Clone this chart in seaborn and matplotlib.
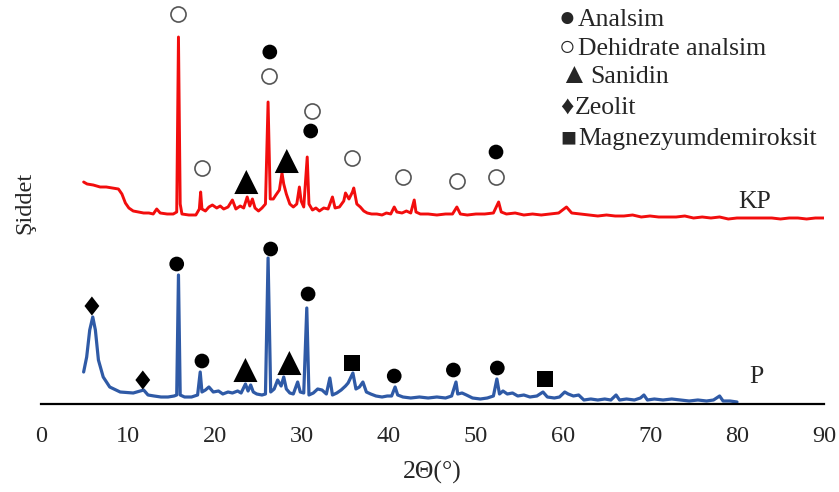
import matplotlib
matplotlib.use("Agg")
import matplotlib.pyplot as plt
import seaborn as sns

# KP pattern (calcined), 2-theta in degrees and relative intensity
kp_2theta = [4.9, 5.3, 6.0, 6.8, 7.5, 8.2, 8.9, 9.3, 9.7, 10.1, 10.6, 11.2, 11.8, 12.4, 12.9,
             13.3, 13.7, 14.5, 15.2, 15.6, 15.8, 16.0, 16.2, 17.0, 17.8, 18.2, 18.35, 18.5,
             18.9, 19.3, 19.7, 20.2, 20.6, 21.0, 21.5, 22.0, 22.4, 22.9, 23.3, 23.7, 24.0,
             24.3, 24.6, 25.0, 25.4, 25.8, 26.1, 26.35, 26.7, 27.0, 27.4, 27.7, 27.9, 28.2,
             28.6, 29.0, 29.4, 29.7, 29.9, 30.2, 30.6, 30.8, 31.2, 31.6, 32.0, 32.5, 33.0,
             33.5, 33.8, 34.3, 34.8, 35.0, 35.4, 35.8, 35.95, 36.3, 36.7, 37.1, 37.5, 38.0,
             38.6, 39.2, 39.7, 40.2, 40.6, 40.9, 41.5, 42.0, 42.5, 42.9, 43.1, 43.6, 44.5,
             45.5, 46.5, 47.3, 47.8, 48.2, 49.0, 50.0, 51.0, 52.0, 52.6, 52.9, 53.5, 54.5,
             55.5, 56.5, 57.5, 58.5, 59.5, 60.4, 61.0, 62.0, 63.0, 64.0, 65.0, 66.0, 67.0,
             68.0, 69.0, 70.0, 71.0, 72.0, 73.0, 74.0, 75.0, 76.0, 77.0, 78.0, 79.0, 80.0,
             81.0, 82.0, 83.0, 84.0, 85.0, 86.0, 87.0, 88.0, 89.0, 90.0]
kp_intensity = [222, 220, 219, 217, 217, 216, 215, 210, 201, 196, 193, 192, 191, 191, 190,
                195, 191, 190, 190, 192, 367, 200, 190, 189, 189, 195, 212, 195,
                193, 197, 199, 196, 198, 195, 197, 204, 195, 198, 196, 207, 198,
                205, 196, 193, 196, 200, 302, 205, 205, 209, 214, 231, 220, 210,
                200, 197, 200, 217, 203, 197, 247, 200, 194, 196, 193, 196, 195,
                207, 196, 197, 203, 211, 205, 212, 216, 200, 197, 193, 191, 190,
                190, 189, 191, 190, 197, 192, 191, 193, 191, 204, 192, 190, 190,
                189, 190, 190, 197, 190, 189, 190, 190, 191, 202, 192, 190, 191,
                189, 190, 189, 190, 191, 197, 191, 190, 189, 188, 189, 188, 188,
                189, 187, 188, 187, 187, 187, 188, 186, 187, 186, 187, 185, 186,
                186, 186, 186, 186, 185, 186, 186, 185, 186, 186]

# P pattern (natural), 2-theta in degrees and relative intensity
p_2theta = [4.9, 5.25, 5.6, 5.95, 6.25, 6.6, 7.15, 7.9, 9.1, 10.6, 11.8, 12.3, 13.0, 13.8,
            14.6, 15.3, 15.6, 15.8, 16.0, 16.5, 17.3, 18.0, 18.3, 18.5, 18.9, 19.3, 19.8,
            20.4, 20.9, 21.5, 22.0, 22.6, 23.0, 23.5, 23.8, 24.1, 24.4, 24.8, 25.4, 25.8,
            26.1, 26.4, 26.8, 27.2, 27.6, 27.9, 28.2, 28.6, 29.0, 29.5, 29.8, 30.2, 30.55,
            30.8, 31.3, 31.8, 32.3, 32.8, 33.2, 33.5, 34.0, 34.5, 35.0, 35.3, 35.85, 36.2,
            36.6, 37.0, 37.4, 37.9, 38.5, 39.2, 39.8, 40.3, 40.7, 41.0, 41.6, 42.5, 43.5,
            44.5, 45.5, 46.5, 47.2, 47.7, 47.9, 48.4, 48.9, 49.6, 50.5, 51.3, 52.0, 52.4,
            52.7, 53.1, 53.6, 54.2, 54.8, 55.5, 56.2, 57.0, 57.7, 58.2, 59.0, 59.6, 60.2,
            60.6, 61.2, 61.8, 62.4, 63.2, 64.0, 64.8, 65.5, 66.1, 66.5, 67.3, 68.2, 68.9,
            69.3, 69.7, 70.5, 71.5, 72.5, 73.5, 74.5, 75.5, 76.5, 77.3, 78.0, 78.4, 79.2,
            80.0]
p_intensity = [32, 47, 74, 87, 74, 44, 27, 17, 12, 11, 14, 9, 8, 7,
               7, 8, 9, 129, 9, 7, 7, 9, 32, 12, 14, 17, 12,
               13, 10, 12, 11, 13, 11, 20, 13, 19, 12, 10, 9, 10,
               146, 12, 15, 24, 18, 27, 15, 11, 10, 22, 12, 11, 96,
               9, 11, 15, 14, 10, 26, 9, 11, 14, 18, 21, 31, 15,
               17, 22, 12, 10, 8, 7, 8, 8, 17, 9, 7, 6, 7,
               6, 7, 6, 8, 22, 10, 11, 9, 6, 5, 6, 8, 25,
               10, 13, 10, 11, 8, 9, 7, 8, 12, 7, 6, 7, 12,
               10, 8, 9, 4, 5, 4, 5, 4, 9, 4, 5, 4, 6,
               9, 4, 5, 4, 5, 4, 3, 4, 3, 4, 8, 3, 3,
               2]

# Phase identification marks: (2-theta, height)
kp_analsim_x = [26.3, 31.0, 52.3]
kp_analsim_y = [352, 273, 252]
kp_dehidrate_x = [15.7, 18.5, 26.25, 31.1, 35.7, 41.6, 47.85, 52.3]
kp_dehidrate_y = [390, 236, 328, 293, 246, 227, 223, 227]
kp_sanidin_x = [23.6, 28.25]
kp_sanidin_y = [222, 243]

p_analsim_x = [15.6, 18.5, 26.4, 30.7, 40.6, 47.4, 52.45]
p_analsim_y = [140, 43, 155, 110, 28, 34, 36]
p_sanidin_x = [23.5, 28.55]
p_sanidin_y = [34, 41]
p_zeolit_x = [5.85, 11.7]
p_zeolit_y = [98, 24]
p_magnezyum_x = [35.7, 57.9]
p_magnezyum_y = [41, 25]

x_ticks = [0, 10, 20, 30, 40, 50, 60, 70, 80, 90]

legend_symbols = ["●", "○", "▲", "♦", "■"]
legend_labels = ["Analsim", "Dehidrate analsim", "Sanidin", "Zeolit", "Magnezyumdemiroksit"]

sns.set_theme(style="white")
plt.rcParams["font.family"] = ["Liberation Serif", "DejaVu Serif"]

W, H = 839, 492
fig = plt.figure(figsize=(W / 100, H / 100), dpi=100)
ax = fig.add_axes([41 / W, 88 / H, (824 - 41) / W, 404 / H])

red = "#f20d0d"
blue = "#2f5aa6"

sns.lineplot(x=kp_2theta, y=kp_intensity, color=red, linewidth=2.1, ax=ax)
sns.lineplot(x=p_2theta, y=p_intensity, color=blue, linewidth=2.3, ax=ax)

diamond = [(0, 1), (0.78, 0), (0, -1), (-0.78, 0), (0, 1)]

marks = [
    (kp_analsim_x, kp_analsim_y, "o", 112, "black", "none", 0),
    (p_analsim_x, p_analsim_y, "o", 112, "black", "none", 0),
    (kp_dehidrate_x, kp_dehidrate_y, "o", 118, "white", "#555555", 1.2),
    (kp_sanidin_x, kp_sanidin_y, "^", 300, "black", "none", 0),
    (p_sanidin_x, p_sanidin_y, "^", 300, "black", "none", 0),
    (p_zeolit_x, p_zeolit_y, diamond, 188, "black", "none", 0),
    (p_magnezyum_x, p_magnezyum_y, "s", 132, "black", "none", 0),
]
for xs, ys, mk, size, fc, ec, lw in marks:
    sns.scatterplot(x=xs, y=ys, marker=mk, s=size, color=fc, edgecolor=ec,
                    linewidth=lw, ax=ax, clip_on=False, zorder=5)

ax.text(82.0, 196, "KP", fontsize=18.5, ha="center", va="baseline")
ax.text(82.2, 21, "P", fontsize=18.5, ha="center", va="baseline")

ax.set_xlim(0, 90)
ax.set_ylim(0, 404)
ax.set_xticks(x_ticks)
ax.set_xticklabels([str(t) for t in x_ticks])
ax.set_yticks([])
ax.tick_params(axis="x", length=0, pad=16, labelsize=17.5)
for side in ["left", "right", "top"]:
    ax.spines[side].set_visible(False)
ax.spines["bottom"].set_color("black")
ax.spines["bottom"].set_linewidth(1.6)
ax.set_xlabel("2Θ(°)", fontsize=18.5, labelpad=10)
ax.set_ylabel("")

fig.text(25 / W, 1 - 203 / H, "Şiddet", rotation=90, fontsize=17.5,
         ha="center", va="center")

# Legend drawn as text lines: symbol glyph followed by phase name
baselines = [26, 55, 83, 114, 145]
sym_sizes = [20, 20, 21, 19, 19]
sym_x = [559, 559, 559, 560, 560]
label_x = [578, 578, 590, 575, 578]
for sym, lab, yb, fs, sx, lx in zip(legend_symbols, legend_labels, baselines,
                                    sym_sizes, sym_x, label_x):
    fig.text(sx / W, 1 - yb / H, sym, fontsize=fs, ha="left", va="baseline")
    fig.text(lx / W, 1 - yb / H, lab, fontsize=18.5, ha="left", va="baseline")

fig.savefig("out.png", dpi=100)
